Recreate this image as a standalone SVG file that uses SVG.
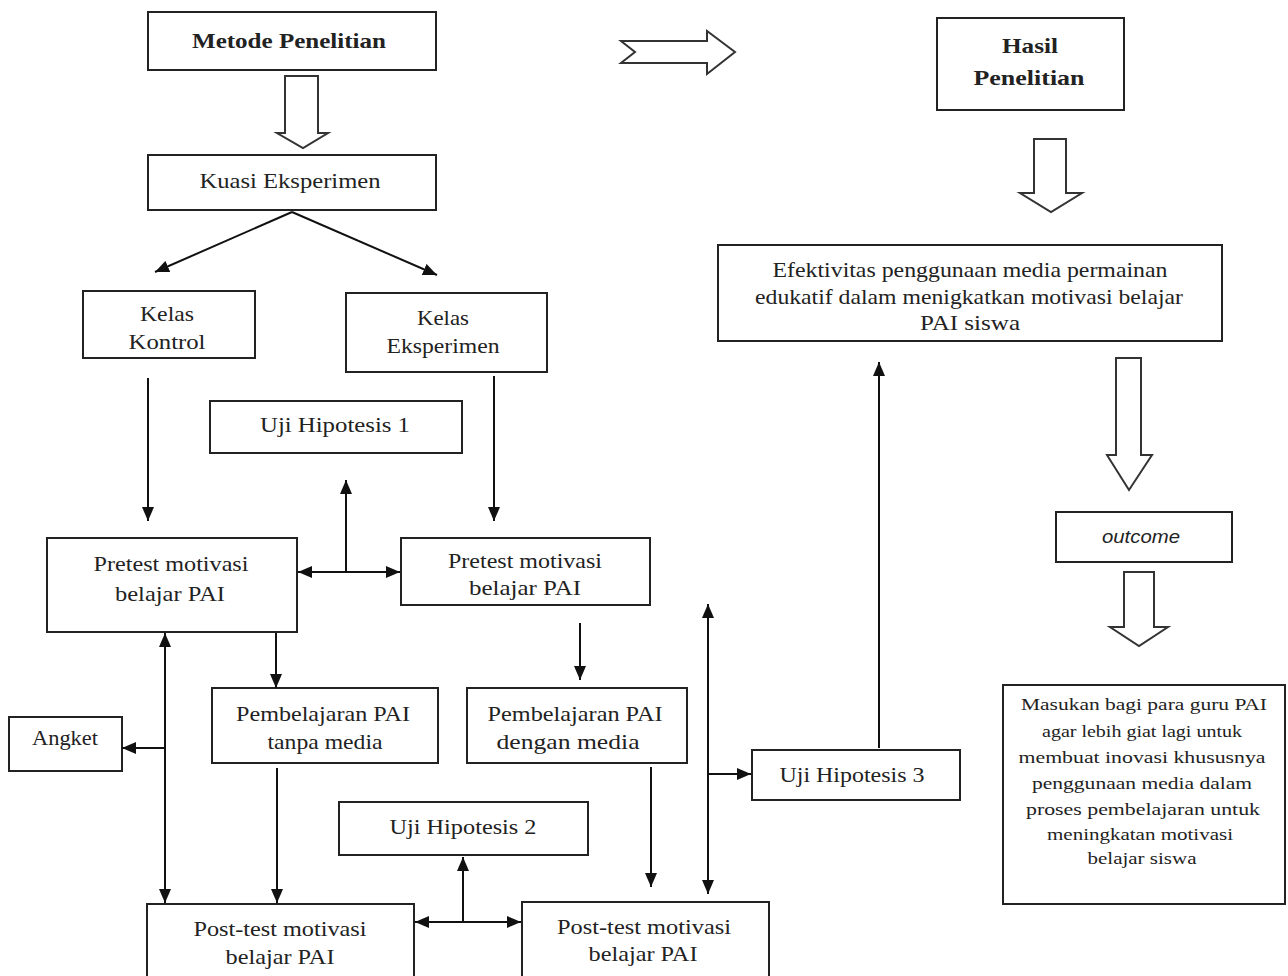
<svg xmlns="http://www.w3.org/2000/svg" width="1288" height="976" viewBox="0 0 1288 976">
<defs>
<marker id="ah" viewBox="0 0 14 12" refX="14" refY="6" markerWidth="14" markerHeight="12" markerUnits="userSpaceOnUse" orient="auto-start-reverse">
<path d="M0,0 L14,6 L0,12 Z" fill="#111"/>
</marker>
<style>
.box{fill:#fff;stroke:#222;stroke-width:2}
.blk{fill:#fff;stroke:#333;stroke-width:2;stroke-linejoin:miter}
.t{font-family:"Liberation Serif","Times New Roman",serif;font-size:21px;fill:#222;text-anchor:middle}
.b{font-weight:bold}
.s{font-size:17px}
.i{font-family:"Liberation Sans",Arial,sans-serif;font-style:italic;font-size:18px}
.c{fill:none;stroke:#111;stroke-width:2}
</style>
</defs>
<rect width="1288" height="976" fill="#fff"/>

<g id="metode"><rect class="box" x="148" y="12" width="288" height="58"/><text class="t b" x="289" y="48" textLength="194" lengthAdjust="spacingAndGlyphs">Metode Penelitian</text></g>
<g id="kuasi"><rect class="box" x="148" y="155" width="288" height="55"/><text class="t" x="290" y="188" textLength="181" lengthAdjust="spacingAndGlyphs">Kuasi Eksperimen</text></g>
<g id="kontrol"><rect class="box" x="83" y="291" width="172" height="67"/><text class="t" x="167" y="321" textLength="54" lengthAdjust="spacingAndGlyphs">Kelas</text><text class="t" x="167" y="349" textLength="77" lengthAdjust="spacingAndGlyphs">Kontrol</text></g>
<g id="eksperimen"><rect class="box" x="346" y="293" width="201" height="79"/><text class="t" x="443" y="325" textLength="52" lengthAdjust="spacingAndGlyphs">Kelas</text><text class="t" x="443" y="353" textLength="113" lengthAdjust="spacingAndGlyphs">Eksperimen</text></g>
<g id="uji1"><rect class="box" x="210" y="401" width="252" height="52"/><text class="t" x="335" y="432" textLength="150" lengthAdjust="spacingAndGlyphs">Uji Hipotesis 1</text></g>
<g id="pretest-kontrol"><rect class="box" x="47" y="538" width="250" height="94"/><text class="t" x="171" y="571" textLength="155" lengthAdjust="spacingAndGlyphs">Pretest motivasi</text><text class="t" x="170" y="601" textLength="110" lengthAdjust="spacingAndGlyphs">belajar  PAI</text></g>
<g id="pretest-eksperimen"><rect class="box" x="401" y="538" width="249" height="67"/><text class="t" x="525" y="568" textLength="154" lengthAdjust="spacingAndGlyphs">Pretest motivasi</text><text class="t" x="525" y="595" textLength="112" lengthAdjust="spacingAndGlyphs">belajar  PAI</text></g>
<g id="tanpa-media"><rect class="box" x="212" y="688" width="226" height="75"/><text class="t" x="323" y="721" textLength="174" lengthAdjust="spacingAndGlyphs">Pembelajaran  PAI</text><text class="t" x="325" y="749" textLength="115" lengthAdjust="spacingAndGlyphs">tanpa media</text></g>
<g id="dengan-media"><rect class="box" x="467" y="688" width="220" height="75"/><text class="t" x="575" y="721" textLength="175" lengthAdjust="spacingAndGlyphs">Pembelajaran  PAI</text><text class="t" x="568" y="749" textLength="143" lengthAdjust="spacingAndGlyphs">dengan  media</text></g>
<g id="angket"><rect class="box" x="9" y="717" width="113" height="54"/><text class="t" x="65" y="745" textLength="66" lengthAdjust="spacingAndGlyphs">Angket</text></g>
<g id="uji2"><rect class="box" x="339" y="802" width="249" height="53"/><text class="t" x="463" y="834" textLength="147" lengthAdjust="spacingAndGlyphs">Uji Hipotesis 2</text></g>
<g id="posttest-kontrol"><rect class="box" x="147" y="904" width="267" height="80"/><text class="t" x="280" y="936" textLength="173" lengthAdjust="spacingAndGlyphs">Post-test motivasi</text><text class="t" x="280" y="964" textLength="109" lengthAdjust="spacingAndGlyphs">belajar  PAI</text></g>
<g id="posttest-eksperimen"><rect class="box" x="522" y="902" width="247" height="80"/><text class="t" x="644" y="934" textLength="174" lengthAdjust="spacingAndGlyphs">Post-test motivasi</text><text class="t" x="643" y="961" textLength="109" lengthAdjust="spacingAndGlyphs">belajar  PAI</text></g>
<g id="uji3"><rect class="box" x="752" y="750" width="208" height="50"/><text class="t" x="852" y="782" textLength="145" lengthAdjust="spacingAndGlyphs">Uji Hipotesis 3</text></g>
<g id="hasil"><rect class="box" x="937" y="18" width="187" height="92"/><text class="t b" x="1030" y="53" textLength="56" lengthAdjust="spacingAndGlyphs">Hasil</text><text class="t b" x="1029" y="85" textLength="111" lengthAdjust="spacingAndGlyphs">Penelitian</text></g>
<g id="efektivitas"><rect class="box" x="718" y="245" width="504" height="96"/><text class="t" x="970" y="277" textLength="395" lengthAdjust="spacingAndGlyphs">Efektivitas penggunaan  media  permainan</text><text class="t" x="969" y="304" textLength="428" lengthAdjust="spacingAndGlyphs">edukatif dalam  menigkatkan  motivasi belajar</text><text class="t" x="970" y="330" textLength="100" lengthAdjust="spacingAndGlyphs">PAI siswa</text></g>
<g id="outcome"><rect class="box" x="1056" y="512" width="176" height="50"/><text class="t i" x="1141" y="543" textLength="78" lengthAdjust="spacingAndGlyphs">outcome</text></g>
<g id="masukan"><rect class="box" x="1003" y="685" width="282" height="219"/>
<text class="t s" x="1144" y="710" textLength="246" lengthAdjust="spacingAndGlyphs">Masukan bagi para guru PAI</text>
<text class="t s" x="1142" y="737" textLength="200" lengthAdjust="spacingAndGlyphs">agar lebih giat lagi untuk</text>
<text class="t s" x="1142" y="763" textLength="247" lengthAdjust="spacingAndGlyphs">membuat inovasi khususnya</text>
<text class="t s" x="1142" y="789" textLength="220" lengthAdjust="spacingAndGlyphs">penggunaan media dalam</text>
<text class="t s" x="1143" y="815" textLength="234" lengthAdjust="spacingAndGlyphs">proses pembelajaran untuk</text>
<text class="t s" x="1140" y="840" textLength="186" lengthAdjust="spacingAndGlyphs">meningkatan motivasi</text>
<text class="t s" x="1142" y="864" textLength="109" lengthAdjust="spacingAndGlyphs">belajar siswa</text>
</g>

<g id="block-arrows">
<polygon class="blk" points="285,76 318,76 318,133 328,133 303,148 277,133 285,133"/>
<polygon class="blk" points="621,41 707,41 707,31 735,52 707,74 707,63 621,63 635,52"/>
<polygon class="blk" points="1034,139 1066,139 1066,193 1082,193 1051,212 1020,193 1034,193"/>
<polygon class="blk" points="1116,358 1141,358 1141,455 1152,455 1129,490 1107,455 1116,455"/>
<polygon class="blk" points="1124,572 1154,572 1154,627 1168,627 1139,646 1110,627 1124,627"/>
</g>

<g id="connectors">
<path class="c" d="M292,212 L155,272" marker-end="url(#ah)"/>
<path class="c" d="M292,212 L437,275" marker-end="url(#ah)"/>
<path class="c" d="M148,378 L148,521" marker-end="url(#ah)"/>
<path class="c" d="M494,376 L494,521" marker-end="url(#ah)"/>
<path class="c" d="M298,572 L400,572" marker-start="url(#ah)" marker-end="url(#ah)"/>
<path class="c" d="M346,572 L346,480" marker-end="url(#ah)"/>
<path class="c" d="M276,633 L276,688" marker-end="url(#ah)"/>
<path class="c" d="M580,623 L580,680" marker-end="url(#ah)"/>
<path class="c" d="M165,633 L165,903" marker-start="url(#ah)" marker-end="url(#ah)"/>
<path class="c" d="M165,748 L122,748" marker-end="url(#ah)"/>
<path class="c" d="M277,768 L277,903" marker-end="url(#ah)"/>
<path class="c" d="M651,767 L651,887" marker-end="url(#ah)"/>
<path class="c" d="M415,922 L521,922" marker-start="url(#ah)" marker-end="url(#ah)"/>
<path class="c" d="M463,922 L463,857" marker-end="url(#ah)"/>
<path class="c" d="M708,604 L708,894" marker-start="url(#ah)" marker-end="url(#ah)"/>
<path class="c" d="M708,774 L751,774" marker-end="url(#ah)"/>
<path class="c" d="M879,748 L879,362" marker-end="url(#ah)"/>
</g>
</svg>
